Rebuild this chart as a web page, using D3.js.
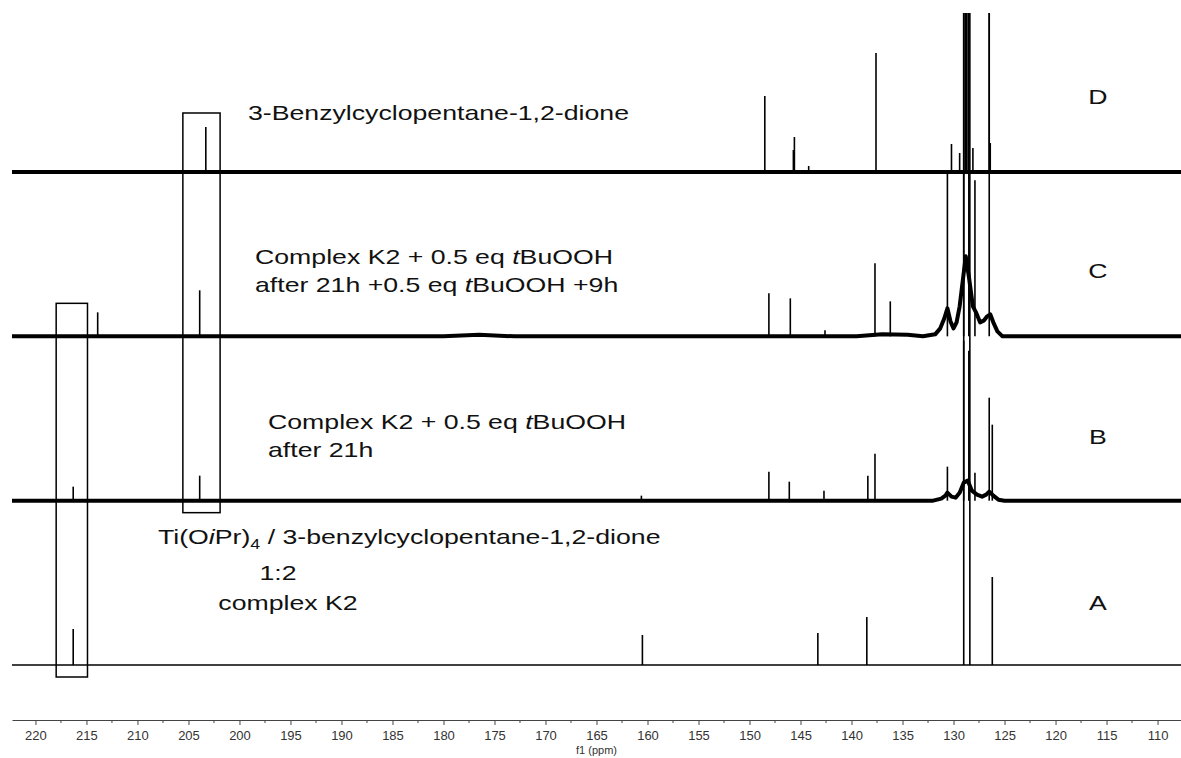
<!DOCTYPE html>
<html>
<head>
<meta charset="utf-8">
<script src="https://cdn.jsdelivr.net/npm/d3@7"></script>
<style>
  html, body { margin: 0; padding: 0; background: #fff; }
  svg { display: block; }
  .lbl { font-family: "Liberation Sans", Arial, sans-serif; font-size: 21px; fill: #111; }
  .axis text { font-family: "Liberation Sans", Arial, sans-serif; font-size: 13px; fill: #333; }
  .axis path, .axis line { stroke: #444; }
</style>
</head>
<body>
<svg id="nmr" width="1181" height="758"></svg>
<script>
(function () {
  const width = 1181;
  const height = 758;

  // traces from top to bottom
  const traces = ['D', 'C', 'B', 'A'];

  // sharp peaks: [ppm, intensity]
  const peaksD = [[203.3, 45], [148.5, 76], [145.7, 22], [145.6, 35], [144.2, 6], [137.6, 119],
    [130.2, 28], [129.4, 19], [128.85, 400], [128.7, 400], [128.55, 400], [128.1, 24],
    [126.5, 400], [126.4, 29]];
  const peaksC = [[213.9, 24], [203.9, 46], [148.1, 43], [146.0, 38], [142.6, 6], [137.7, 73],
    [136.2, 35], [130.6, 163], [129.0, 400], [128.5, 400], [127.9, 156], [126.5, 400]];
  const peaksB = [[216.3, 14], [203.9, 25], [160.6, 5], [148.1, 29], [146.1, 19], [142.7, 10],
    [138.4, 25], [137.7, 47], [130.6, 34], [129.0, 160], [128.5, 150], [127.9, 28],
    [126.5, 103], [126.2, 76]];
  const peaksA = [[216.3, 36], [160.5, 30], [143.3, 32], [138.5, 48], [129.0, 700], [128.4, 700],
    [126.2, 88]];

  // broad baseline humps: [ppm, intensity]
  const humpD = [];
  const humpC = [[180, 0], [176.5, 1.5], [173, 0], [139.5, 0], [137, 2], [134.5, 1.5], [133, 0],
    [131.8, 2], [131.3, 8], [130.9, 18], [130.6, 28], [130.3, 15], [130.0, 8], [129.7, 14],
    [129.4, 30], [129.1, 55], [128.8, 80], [128.5, 60], [128.1, 30], [127.8, 24], [127.4, 14],
    [127.0, 16], [126.7, 20], [126.4, 22], [126.1, 14], [125.7, 5], [125.2, 0]];
  const humpB = [[132, 0], [131.2, 2], [130.8, 5], [130.6, 8], [130.2, 4], [129.8, 3], [129.4, 8],
    [129.0, 18], [128.6, 20], [128.2, 10], [127.7, 6], [127.2, 4], [126.8, 6], [126.5, 9],
    [126.1, 5], [125.6, 1], [125.0, 0]];
  const humpA = [];

  // highlighted regions: [ppm from, ppm to, top trace, bottom trace]
  const boxes = [[205.55, 201.9, 'D', 'B'], [217.97, 214.9, 'C', 'A']];

  const majorTicks = d3.range(220, 109, -5);
  const minorTicks = d3.range(217.5, 108, -5);

  const spectra = {
    D: { peaks: peaksD, hump: humpD, noisy: true },
    C: { peaks: peaksC, hump: humpC, noisy: true },
    B: { peaks: peaksB, hump: humpB, noisy: true },
    A: { peaks: peaksA, hump: humpA, noisy: false }
  };

  const svg = d3.select('#nmr');

  const x = d3.scaleLinear().domain([222.3, 107.7]).range([12, 1181]);
  const track = d3.scalePoint().domain(traces).range([172, 665]);
  const amp = d3.scaleLinear().domain([0, 100]).range([0, 100]);
  const axisY = 720;

  svg.append('defs').append('clipPath').attr('id', 'plot-clip')
    .append('rect').attr('x', 0).attr('y', 13).attr('width', width).attr('height', axisY - 13);

  const plot = svg.append('g').attr('clip-path', 'url(#plot-clip)');

  traces.forEach(function (name) {
    const s = spectra[name];
    const base = track(name);
    const pts = [[x.domain()[0], 0]].concat(s.hump, [[x.domain()[1], 0]]);
    const line = d3.line()
      .x(function (d) { return x(d[0]); })
      .y(function (d) { return base - amp(d[1]); });

    plot.append('path')
      .attr('d', line(pts))
      .attr('fill', 'none')
      .attr('stroke', '#000')
      .attr('stroke-width', s.noisy ? 4 : 1.4)
      .attr('stroke-linejoin', 'round');

    plot.selectAll(null)
      .data(s.peaks)
      .enter()
      .append('line')
      .attr('x1', function (d) { return x(d[0]); })
      .attr('x2', function (d) { return x(d[0]); })
      .attr('y1', base)
      .attr('y2', function (d) { return base - amp(d[1]); })
      .attr('stroke', '#000')
      .attr('stroke-width', 1.6);
  });

  // boxes round the carbonyl signals
  svg.selectAll(null)
    .data(boxes)
    .enter()
    .append('rect')
    .attr('x', function (d) { return x(d[0]); })
    .attr('y', function (d) { return track(d[2]) - (d[2] === 'D' ? 59 : 33); })
    .attr('width', function (d) { return x(d[1]) - x(d[0]); })
    .attr('height', function (d) {
      return track(d[3]) + 12 - (track(d[2]) - (d[2] === 'D' ? 59 : 33));
    })
    .attr('fill', 'none')
    .attr('stroke', '#000')
    .attr('stroke-width', 1.5);

  // axis
  const axis = svg.append('g')
    .attr('class', 'axis')
    .attr('transform', 'translate(0,' + axisY + ')')
    .call(d3.axisBottom(x).tickValues(majorTicks).tickSize(5).tickSizeOuter(0).tickPadding(6));

  axis.selectAll('.minor')
    .data(minorTicks)
    .enter()
    .append('line')
    .attr('class', 'minor')
    .attr('x1', function (d) { return x(d); })
    .attr('x2', function (d) { return x(d); })
    .attr('y1', 0)
    .attr('y2', 3);

  svg.append('text')
    .attr('class', 'axis-title')
    .attr('x', x(165))
    .attr('y', 754)
    .attr('text-anchor', 'middle')
    .style('font-family', '"Liberation Sans", Arial, sans-serif')
    .style('font-size', '11px')
    .style('fill', '#333')
    .text('f1 (ppm)');

  // labels (the source figure is stretched horizontally)
  function label(px, py, parts, anchor) {
    const t = svg.append('text')
      .attr('class', 'lbl')
      .attr('transform', 'translate(' + px + ',' + py + ') scale(1.27,1)')
      .attr('text-anchor', anchor || 'start');
    parts.forEach(function (p) {
      const sp = t.append('tspan').text(p[0]);
      if (p[1] === 'i') sp.style('font-style', 'italic');
      if (p[1] === 'sub') sp.attr('dy', 5).style('font-size', '14px');
      if (p[1] === 'up') sp.attr('dy', -5);
    });
  }

  label(248, 120, [['3-Benzylcyclopentane-1,2-dione']]);
  label(255, 264, [['Complex K2 + 0.5 eq '], ['t', 'i'], ['BuOOH']]);
  label(255, 292, [['after 21h +0.5 eq '], ['t', 'i'], ['BuOOH +9h']]);
  label(268, 429, [['Complex K2 + 0.5 eq '], ['t', 'i'], ['BuOOH']]);
  label(268, 457, [['after 21h']]);
  label(158, 544, [['Ti(O'], ['i', 'i'], ['Pr)'], ['4', 'sub'], [' / 3-benzylcyclopentane-1,2-dione', 'up']]);
  label(278, 580, [['1:2']], 'middle');
  label(288, 610, [['complex K2']], 'middle');

  const letterY = { D: 104, C: 278, B: 444, A: 610 };
  traces.forEach(function (name) {
    label(1098, letterY[name], [[name]], 'middle');
  });
})();
</script>
</body>
</html>
